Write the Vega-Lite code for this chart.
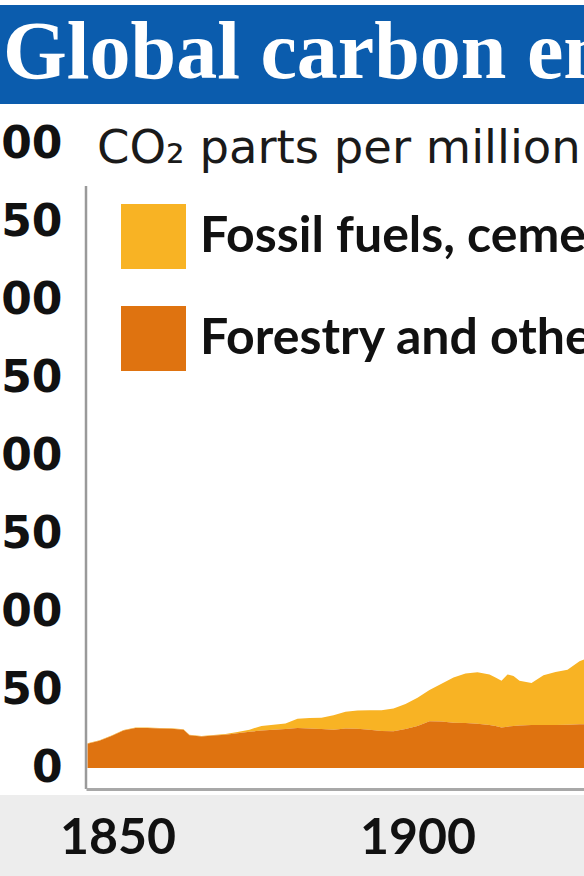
{
  "$schema": "https://vega.github.io/schema/vega-lite/v6.json",
  "autosize": {"type": "none"},
  "width": 498,
  "height": 645,
  "padding": {"left": 86, "top": 144, "right": 0, "bottom": 87},
  "background": "#ffffff",
  "config": {"view": {"stroke": null}},
  "datasets": {
    "emissions": [
      {"year": 1845, "Forestry and other land use": 15.5, "Fossil fuels, cement and gas flaring": 0.3},
      {"year": 1847, "Forestry and other land use": 17.5, "Fossil fuels, cement and gas flaring": 0.3},
      {"year": 1849, "Forestry and other land use": 20.5, "Fossil fuels, cement and gas flaring": 0.3},
      {"year": 1851, "Forestry and other land use": 24, "Fossil fuels, cement and gas flaring": 0.3},
      {"year": 1853, "Forestry and other land use": 25.7, "Fossil fuels, cement and gas flaring": 0.3},
      {"year": 1855, "Forestry and other land use": 25.7, "Fossil fuels, cement and gas flaring": 0.3},
      {"year": 1857, "Forestry and other land use": 25.4, "Fossil fuels, cement and gas flaring": 0.3},
      {"year": 1859, "Forestry and other land use": 25.2, "Fossil fuels, cement and gas flaring": 0.3},
      {"year": 1861, "Forestry and other land use": 24.5, "Fossil fuels, cement and gas flaring": 0.3},
      {"year": 1862, "Forestry and other land use": 21, "Fossil fuels, cement and gas flaring": 0.3},
      {"year": 1864, "Forestry and other land use": 20.2, "Fossil fuels, cement and gas flaring": 0.3},
      {"year": 1866, "Forestry and other land use": 20.8, "Fossil fuels, cement and gas flaring": 0.4},
      {"year": 1868, "Forestry and other land use": 21.3, "Fossil fuels, cement and gas flaring": 0.5},
      {"year": 1870, "Forestry and other land use": 22.3, "Fossil fuels, cement and gas flaring": 0.7},
      {"year": 1872, "Forestry and other land use": 23.2, "Fossil fuels, cement and gas flaring": 1.4},
      {"year": 1874, "Forestry and other land use": 24, "Fossil fuels, cement and gas flaring": 3},
      {"year": 1876, "Forestry and other land use": 24.6, "Fossil fuels, cement and gas flaring": 3.2},
      {"year": 1878, "Forestry and other land use": 25, "Fossil fuels, cement and gas flaring": 3.5},
      {"year": 1880, "Forestry and other land use": 25.6, "Fossil fuels, cement and gas flaring": 5.9},
      {"year": 1882, "Forestry and other land use": 25.4, "Fossil fuels, cement and gas flaring": 6.6},
      {"year": 1884, "Forestry and other land use": 25, "Fossil fuels, cement and gas flaring": 7.2},
      {"year": 1886, "Forestry and other land use": 24.6, "Fossil fuels, cement and gas flaring": 9.2},
      {"year": 1888, "Forestry and other land use": 25.4, "Fossil fuels, cement and gas flaring": 10.6},
      {"year": 1890, "Forestry and other land use": 25.2, "Fossil fuels, cement and gas flaring": 11.6},
      {"year": 1892, "Forestry and other land use": 24.5, "Fossil fuels, cement and gas flaring": 12.5},
      {"year": 1894, "Forestry and other land use": 23.7, "Fossil fuels, cement and gas flaring": 13.3},
      {"year": 1896, "Forestry and other land use": 23.6, "Fossil fuels, cement and gas flaring": 14.6},
      {"year": 1898, "Forestry and other land use": 25, "Fossil fuels, cement and gas flaring": 16},
      {"year": 1900, "Forestry and other land use": 27, "Fossil fuels, cement and gas flaring": 18},
      {"year": 1902, "Forestry and other land use": 30, "Fossil fuels, cement and gas flaring": 20},
      {"year": 1904, "Forestry and other land use": 29.8, "Fossil fuels, cement and gas flaring": 24.2},
      {"year": 1906, "Forestry and other land use": 29, "Fossil fuels, cement and gas flaring": 29},
      {"year": 1908, "Forestry and other land use": 28.8, "Fossil fuels, cement and gas flaring": 31.7},
      {"year": 1910, "Forestry and other land use": 28.3, "Fossil fuels, cement and gas flaring": 33},
      {"year": 1912, "Forestry and other land use": 27.5, "Fossil fuels, cement and gas flaring": 32.5},
      {"year": 1913, "Forestry and other land use": 27, "Fossil fuels, cement and gas flaring": 31},
      {"year": 1914, "Forestry and other land use": 26, "Fossil fuels, cement and gas flaring": 30},
      {"year": 1915, "Forestry and other land use": 26.5, "Fossil fuels, cement and gas flaring": 33.5},
      {"year": 1916, "Forestry and other land use": 27, "Fossil fuels, cement and gas flaring": 32},
      {"year": 1917, "Forestry and other land use": 27.2, "Fossil fuels, cement and gas flaring": 28.8},
      {"year": 1919, "Forestry and other land use": 27.6, "Fossil fuels, cement and gas flaring": 26.9},
      {"year": 1921, "Forestry and other land use": 27.6, "Fossil fuels, cement and gas flaring": 31.9},
      {"year": 1923, "Forestry and other land use": 27.6, "Fossil fuels, cement and gas flaring": 33.9},
      {"year": 1925, "Forestry and other land use": 27.8, "Fossil fuels, cement and gas flaring": 35.2},
      {"year": 1927, "Forestry and other land use": 28, "Fossil fuels, cement and gas flaring": 40.5},
      {"year": 1928, "Forestry and other land use": 28, "Fossil fuels, cement and gas flaring": 42}
    ]
  },
  "layer": [
    {
      "data": {"values": [{"band": "axis"}]},
      "mark": {"type": "rect", "color": "#ededed"},
      "encoding": {
        "x": {"datum": 1820, "type": "quantitative", "scale": {"domain": [1844.75, 1927.75], "nice": false, "zero": false}},
        "x2": {"datum": 1940},
        "y": {"datum": -17.3, "type": "quantitative", "scale": {"domain": [-13.46, 400], "nice": false, "zero": false}},
        "y2": {"datum": -100}
      }
    },
    {
      "data": {"values": [{"band": "title"}]},
      "mark": {"type": "rect", "color": "#0b5cad"},
      "encoding": {
        "x": {"datum": 1820, "type": "quantitative"},
        "x2": {"datum": 1940},
        "y": {"datum": 489.1, "type": "quantitative"},
        "y2": {"datum": 425.6}
      }
    },
    {
      "data": {"name": "emissions"},
      "transform": [
        {"fold": ["Fossil fuels, cement and gas flaring", "Forestry and other land use"], "as": ["source", "value"]}
      ],
      "mark": {"type": "area", "interpolate": "linear"},
      "encoding": {
        "x": {
          "field": "year",
          "type": "quantitative",
          "axis": {
            "values": [1850, 1900],
            "format": "d",
            "title": null,
            "ticks": false,
            "grid": false,
            "zindex": 2,
            "domainColor": "#a8a8a8",
            "domainWidth": 3,
            "labelFont": "Lato",
            "labelFontWeight": "bold",
            "labelFontSize": 50,
            "labelColor": "#111111",
            "labelBaseline": "middle",
            "labelPadding": 49,
            "labelFlush": false
          }
        },
        "y": {
          "field": "value",
          "type": "quantitative",
          "stack": "zero",
          "axis": {
            "values": [0, 50, 100, 150, 200, 250, 300, 350, 400],
            "title": null,
            "ticks": false,
            "grid": false,
            "domain": false,
            "zindex": 2,
            "labelFont": "DejaVu Sans",
            "labelFontWeight": "bold",
            "labelFontSize": 44,
            "labelColor": "#111111",
            "labelAlign": "right",
            "labelBaseline": "middle",
            "labelPadding": 24,
            "labelFlush": false
          }
        },
        "color": {
          "field": "source",
          "type": "nominal",
          "scale": {
            "domain": ["Fossil fuels, cement and gas flaring", "Forestry and other land use"],
            "range": ["#f8b324", "#df7310"]
          },
          "legend": {
            "orient": "none",
            "legendX": 35,
            "legendY": 60,
            "title": null,
            "padding": 0,
            "symbolType": "square",
            "symbolSize": 4225,
            "symbolStrokeWidth": 0,
            "symbolOpacity": 1,
            "labelFont": "Lato",
            "labelFontWeight": "bold",
            "labelFontSize": 50,
            "labelColor": "#111111",
            "labelOffset": 14,
            "labelLimit": 2000,
            "rowPadding": 37
          }
        },
        "order": {"field": "source", "sort": "ascending"}
      }
    },
    {
      "data": {"values": [{"line": "y"}]},
      "mark": {"type": "rule", "color": "#9a9a9a", "strokeWidth": 2.5},
      "encoding": {
        "x": {"datum": 1844.75, "type": "quantitative"},
        "y": {"datum": 373, "type": "quantitative"},
        "y2": {"datum": -13.46}
      }
    },
    {
      "data": {"values": [{"t": "Global carbon emissions"}]},
      "mark": {"type": "text", "align": "left", "baseline": "alphabetic", "font": "Liberation Serif", "fontWeight": "bold", "fontSize": 82, "color": "#ffffff"},
      "encoding": {
        "x": {"datum": 1830.92, "type": "quantitative"},
        "y": {"datum": 442.3, "type": "quantitative"},
        "text": {"field": "t"}
      }
    },
    {
      "data": {"values": [{"t": "CO₂ parts per million"}]},
      "mark": {"type": "text", "align": "left", "baseline": "alphabetic", "font": "DejaVu Sans", "fontSize": 46.5, "color": "#1a1a1a"},
      "encoding": {
        "x": {"datum": 1846.58, "type": "quantitative"},
        "y": {"datum": 387.8, "type": "quantitative"},
        "text": {"field": "t"}
      }
    }
  ]
}
